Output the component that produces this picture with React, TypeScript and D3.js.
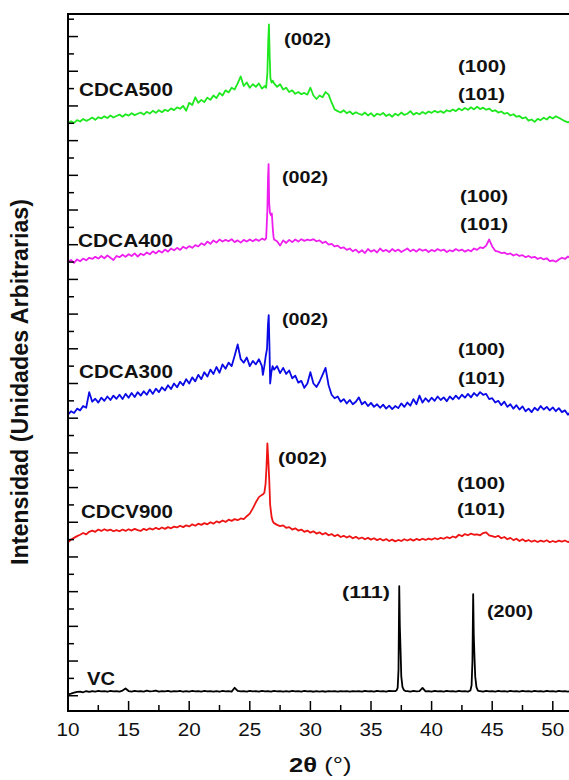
import React from 'react';
import * as d3 from 'd3';

// ---------- data ----------
// Diffractograms sampled every 0.25° from 10° (rows = one degree), intensities in a.u.
const GRID_START = 10;
const GRID_STEP = 0.25;

const cdca500Grid = [
  0, 12, 2, 18, 10, 25, 14, 22, 33, 20, 35, 28, 40, 30, 45, 33,
  42, 50, 38, 52, 44, 58, 47, 55, 62, 50, 66, 56, 72, 60, 75, 64,
  78, 70, 86, 76, 92, 84, 100, 72, 118, 105, 150, 118, 135, 122, 148, 135,
  160, 145, 175, 160, 190, 178, 205, 195, 230, 270, 215, 235, 205, 225, 210, 230,
  200, 215, 230, 240, 230, 210, 225, 195, 205, 180, 190, 170, 180, 168, 175, 165,
  205, 160, 140, 160, 150, 180, 165, 120, 80, 70, 62, 75, 58, 68, 52, 64,
  55, 48, 62, 45, 58, 40, 55, 48, 60, 42, 52, 38, 55, 45, 62, 48,
  55, 70, 50, 60, 52, 65, 55, 68, 60, 72, 62, 70, 60, 75, 68, 80,
  70, 85, 75, 88, 78, 92, 80, 95, 82, 90, 78, 85, 70, 75, 62, 68,
  55, 60, 45, 52, 38, 42, 28, 35, 15, 22, 8, 25, 18, 32, 22, 38,
  28, 40, 32, 22, 12, 5, 15, 8, 12, 6, 10, 4,
];
const cdca500Peak002 = [
  [26.35, 205], [26.45, 290], [26.52, 470], [26.58, 570], [26.64, 390],
  [26.7, 260], [26.8, 235], [26.9, 245],
];

const cdca400Grid = [
  0, 12, -5, 15, 5, 20, 10, 25, 18, 30, 20, 35, 22, 38, 25, 12,
  35, 28, 42, 30, 45, 35, 50, 32, 48, 40, 55, 45, 62, 50, 65, 55,
  72, 60, 78, 68, 82, 70, 88, 78, 92, 82, 98, 90, 108, 98, 118, 105,
  125, 112, 130, 118, 128, 120, 132, 115, 125, 112, 128, 118, 130, 120, 132, 122,
  135, 128, 140, 130, 130, 120, 95, 125, 110, 128, 115, 130, 118, 132, 122, 130,
  125, 132, 120, 125, 110, 118, 100, 105, 90, 95, 80, 85, 70, 78, 62, 72,
  55, 68, 52, 75, 60, 70, 55, 78, 62, 70, 58, 75, 62, 72, 58, 68,
  78, 62, 72, 60, 75, 65, 72, 58, 70, 62, 75, 65, 72, 58, 68, 62,
  75, 65, 72, 60, 70, 62, 78, 70, 85, 80, 95, 130, 90, 65, 60, 52,
  55, 45, 50, 38, 45, 35, 40, 28, 35, 25, 30, 18, 25, 15, 22, 5,
  10, 2, 15, 25, 18, 32, 20, 28, 15, 22, 12, 18,
];
const cdca400Peak002 = [
  [26.35, 138], [26.45, 300], [26.5, 480], [26.55, 565], [26.6, 340],
  [26.66, 285], [26.74, 270], [26.82, 280], [26.9, 190], [26.96, 145],
];

const cdca300Grid = [
  20, 40, 30, 55, 45, 70, 60, 150, 95, 112, 90, 118, 100, 125, 105, 130,
  112, 135, 110, 140, 118, 145, 122, 150, 130, 155, 135, 165, 140, 170, 150, 178,
  160, 190, 168, 200, 178, 210, 190, 225, 200, 235, 212, 250, 225, 265, 240, 280,
  255, 295, 262, 310, 285, 320, 300, 360, 425, 340, 320, 350, 300, 330, 310, 340,
  300, 330, 330, 260, 280, 300, 260, 290, 255, 275, 230, 245, 205, 215, 175, 200,
  265, 200, 180, 210, 250, 290, 190, 135, 115, 125, 95, 110, 85, 105, 80, 95,
  120, 80, 95, 70, 88, 65, 80, 60, 78, 55, 72, 52, 70, 58, 85, 65,
  90, 72, 110, 80, 130, 90, 115, 95, 118, 100, 125, 105, 120, 98, 125, 108,
  130, 112, 135, 118, 140, 120, 145, 128, 150, 135, 140, 110, 115, 90, 100, 75,
  95, 65, 80, 55, 75, 50, 68, 40, 55, 35, 60, 45, 70, 50, 65, 45,
  62, 40, 58, 35, 45, 20, 38, 25, 40, 28, 35, 22,
];
const cdca300Peak002 = [
  [26.08, 250], [26.2, 300], [26.32, 360], [26.42, 400], [26.5, 540],
  [26.56, 594], [26.62, 420], [26.68, 200], [26.78, 265], [26.88, 300],
];

const cdcv900Grid = [
  -15, 0, 10, 20, 28, 38, 30, 45, 52, 45, 58, 50, 60, 52, 58, 48,
  55, 48, 58, 50, 60, 52, 62, 55, 50, 62, 55, 65, 58, 68, 60, 70,
  62, 72, 65, 75, 70, 80, 72, 82, 76, 88, 80, 92, 85, 95, 88, 100,
  92, 105, 98, 110, 102, 115, 108, 118, 112, 122, 118, 135, 150, 180, 215, 245,
  258, 270, 300, 150, 95, 85, 78, 82, 68, 72, 58, 65, 52, 58, 45, 52,
  40, 48, 35, 42, 30, 38, 25, 32, 20, 28, 15, 22, 12, 20, 8, 16,
  5, 12, 2, 10, 0, 8, -3, 5, -5, 3, -8, 0, -10, -2, -8, 2,
  -5, 3, -6, 4, -3, 5, -2, 6, 0, 8, 2, 10, 5, 14, 8, 18,
  12, 28, 20, 32, 25, 35, 28, 30, 25, 38, 42, 25, 20, 15, 22, 8,
  15, 2, 10, -3, 5, -8, 2, -10, -2, -12, -5, -14, -6, -12, -4, -15,
  -8, -14, -6, -12, -5, -14, -8, -12, -6, -10, -8, -12,
];
const cdcv900Peak002 = [
  [26.1, 262], [26.2, 270], [26.3, 320], [26.38, 420], [26.45, 555],
  [26.52, 470], [26.6, 350], [26.68, 200], [26.8, 130], [26.9, 105],
];

const vcGrid = [
  8, 12, 18, 22, 24, 20, 26, 22, 27, 24, 28, 25, 27, 23, 28, 25,
  27, 24, 30, 42, 27, 24, 28, 25, 27, 24, 29, 25, 26, 30, 24, 27,
  25, 28, 24, 27, 25, 28, 23, 27, 24, 28, 25, 27, 24, 28, 25, 27,
  24, 27, 23, 28, 25, 27, 24, 46, 28, 25, 27, 24, 28, 25, 27, 24,
  28, 25, 27, 24, 28, 25, 27, 24, 27, 24, 28, 25, 27, 24, 28, 25,
  26, 23, 27, 24, 26, 23, 27, 25, 26, 24, 27, 25, 27, 24, 26, 25,
  27, 24, 28, 25, 27, 24, 28, 25, 27, 24, 28, 26, 27, 30, 60, 40,
  27, 24, 28, 25, 27, 45, 25, 27, 24, 28, 25, 27, 24, 28, 25, 27,
  24, 28, 25, 27, 24, 28, 60, 40, 27, 24, 28, 25, 27, 24, 28, 25,
  27, 24, 28, 25, 27, 24, 28, 25, 27, 24, 28, 25, 27, 24, 28, 25,
  27, 24, 28, 25, 27, 24, 28, 25, 27, 24, 28, 25,
];
const vcPeak111 = [
  [37.1, 30], [37.2, 45], [37.27, 150], [37.33, 632], [37.38, 400],
  [37.44, 260], [37.5, 110], [37.6, 50], [37.72, 32], [37.85, 27],
];
const vcPeak200 = [
  [43.2, 30], [43.3, 60], [43.37, 200], [43.43, 586], [43.48, 350],
  [43.54, 220], [43.6, 110], [43.7, 50], [43.82, 30], [43.95, 27],
];

const seriesNames = ['CDCA500', 'CDCA400', 'CDCA300', 'CDCV900', 'VC'];
const seriesGrids = [cdca500Grid, cdca400Grid, cdca300Grid, cdcv900Grid, vcGrid];
const seriesPeaks = [[cdca500Peak002], [cdca400Peak002], [cdca300Peak002], [cdcv900Peak002], [vcPeak111, vcPeak200]];
const seriesOffsets = [3300, 2500, 1600, 900, 0];
const seriesColors = ['#1ee81e', '#ee1eee', '#0a0ae6', '#ee1414', '#000000'];

const xMajorTicks = [10, 15, 20, 25, 30, 35, 40, 45, 50, 55];
const xTickLabels = ['10', '15', '20', '25', '30', '35', '40', '45', '50'];
const xMinorTicks = [12.5, 17.5, 22.5, 27.5, 32.5, 37.5, 42.5, 47.5, 52.5];
const yTickValues = d3.range(0, 3901, 100);

const nameLabels = [
  { text: 'CDCA500', w: 94, x: 79, y: 96 },
  { text: 'CDCA400', w: 95, x: 78, y: 246.5 },
  { text: 'CDCA300', w: 94, x: 79, y: 378 },
  { text: 'CDCV900', w: 92, x: 81, y: 518 },
  { text: 'VC', w: 28, x: 87, y: 685 },
];
const planeLabels = [
  { text: '(002)', w: 47, x: 284, y: 45 },
  { text: '(100)', w: 48, x: 458, y: 71.6 },
  { text: '(101)', w: 47, x: 458, y: 99.6 },
  { text: '(002)', w: 46, x: 282, y: 183.3 },
  { text: '(100)', w: 48, x: 460, y: 201.6 },
  { text: '(101)', w: 48, x: 460, y: 229.6 },
  { text: '(002)', w: 46, x: 282, y: 324.6 },
  { text: '(100)', w: 47, x: 458, y: 354.6 },
  { text: '(101)', w: 47, x: 458, y: 383.6 },
  { text: '(002)', w: 49, x: 278, y: 463.6 },
  { text: '(100)', w: 48, x: 457, y: 488.6 },
  { text: '(101)', w: 48, x: 457, y: 514.6 },
  { text: '(111)', w: 48, x: 342, y: 598.3 },
  { text: '(200)', w: 46, x: 487, y: 616.6 },
];

const FONT = "'Liberation Sans', Arial, Helvetica, sans-serif";

function buildPoints(grid: number[], peaks: number[][][]) {
  const pts = grid.map((v, i) => [GRID_START + i * GRID_STEP, v]);
  const wins = peaks.map((p) => [p[0][0], p[p.length - 1][0]]);
  const kept = pts.filter(([t]) => !wins.some(([a, b]) => t >= a && t <= b));
  return kept.concat(...peaks).sort((a, b) => a[0] - b[0]);
}

export default function App() {
  const left = 68, top = 14, bottom = 711;
  const x = d3.scaleLinear().domain([10, 55]).range([left, left + 45 * 12.12]);
  const y = d3.scaleLinear().domain([-88, 3930]).range([bottom, top]);
  const right = x(55);

  const line = d3.line<number[]>().x((d) => x(d[0])).y((d) => y(d[1]));

  return (
    <svg width={569} height={780} style={{ position: 'absolute', left: 0, top: 0, background: '#fff' }}
      fontFamily={FONT}>
      <defs>
        <clipPath id="plotClip">
          <rect x={left} y={top} width={right - left} height={bottom - top} />
        </clipPath>
      </defs>
      <rect x={0} y={0} width={569} height={780} fill="#fff" />

      <g clipPath="url(#plotClip)">
        {seriesGrids.map((g, i) => {
          const pts = buildPoints(g, seriesPeaks[i]).map((p) => [p[0], p[1] + seriesOffsets[i]]);
          return (
            <path key={seriesNames[i]} d={line(pts) || ''} fill="none" stroke={seriesColors[i]}
              strokeWidth={1.8} strokeLinejoin="round" />
          );
        })}
      </g>

      {/* frame */}
      <rect x={left} y={top} width={right - left} height={bottom - top} fill="none" stroke="#000" strokeWidth={2} />

      {/* x ticks */}
      {xMajorTicks.map((t) => (
        <line key={'xM' + t} x1={x(t)} x2={x(t)} y1={bottom} y2={bottom - 10} stroke="#000" strokeWidth={1.5} />
      ))}
      {xTickLabels.map((s) => (
        <text key={'xl' + s} x={x(+s)} y={736} textAnchor="middle" fontSize={18} textLength={23}
          lengthAdjust="spacingAndGlyphs" fill="#111">{s}</text>
      ))}
      {xMinorTicks.map((t) => (
        <line key={'xm' + t} x1={x(t)} x2={x(t)} y1={bottom} y2={bottom - 6} stroke="#000" strokeWidth={1.5} />
      ))}

      {/* y ticks */}
      {yTickValues.map((v) => (
        <line key={'y' + v} x1={left} x2={left + (v % 200 === 0 ? 10 : 6)} y1={y(v)} y2={y(v)}
          stroke="#000" strokeWidth={1.5} />
      ))}

      {/* labels */}
      {nameLabels.map((l) => (
        <text key={l.text} x={l.x} y={l.y} fontSize={17.5} fontWeight="bold" textLength={l.w}
          lengthAdjust="spacingAndGlyphs" fill="#111">{l.text}</text>
      ))}
      {planeLabels.map((l, i) => (
        <text key={'p' + i} x={l.x} y={l.y} fontSize={16} fontWeight="bold" textLength={l.w}
          lengthAdjust="spacingAndGlyphs" fill="#111">{l.text}</text>
      ))}

      {/* axis titles */}
      <text transform="translate(28,382) rotate(-90)" textAnchor="middle" fontSize={23} fontWeight="bold"
        textLength={366} lengthAdjust="spacingAndGlyphs" fill="#111">
        Intensidad (Unidades Arbitrarias)
      </text>
      <g transform="translate(289,772) scale(1.28,1)">
        <text x={0} y={0} fontSize={20} fill="#111">
          <tspan fontWeight="bold">2θ</tspan>
          <tspan> (°)</tspan>
        </text>
      </g>
    </svg>
  );
}
